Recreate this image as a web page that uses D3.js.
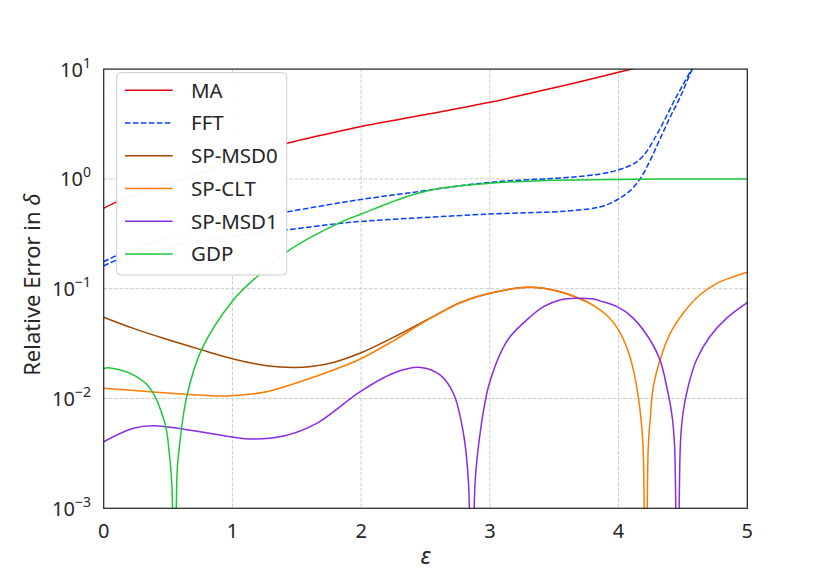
<!DOCTYPE html>
<html>
<head>
<meta charset="utf-8">
<script src="https://cdn.jsdelivr.net/npm/d3@7"></script>
<style>
  body { margin: 0; background: #fff; }
  text { font-family: "Noto Sans", sans-serif; fill: #262626; }
</style>
</head>
<body>
<svg id="chart" width="830" height="581"></svg>
<script>
// values, x = epsilon, y = relative error
const maEps = [0, 0.1, 0.25, 0.5, 0.75, 1.0, 1.25, 1.425, 1.84, 2.0, 2.3, 2.5, 3.0, 3.5, 4.0, 4.2];
const maVal = [0.54, 0.617, 0.724, 0.912, 1.15, 1.46, 1.80, 2.11, 2.73, 3.0, 3.49, 3.86, 4.99, 6.76, 9.35, 10.7];

const fftAEps = [0, 0.1, 0.5, 1.0, 1.42, 1.84, 2.0, 2.35, 3.0, 3.6, 3.86, 4.0, 4.115, 4.193, 4.27, 4.348, 4.426, 4.503, 4.6];
const fftAVal = [0.176, 0.20, 0.29, 0.41, 0.50, 0.607, 0.65, 0.74, 0.93, 1.03, 1.11, 1.21, 1.37, 1.63, 2.23, 3.28, 4.99, 7.3, 11.7];

const fftBEps = [0, 0.1, 0.5, 1.0, 1.42, 1.84, 2.0, 3.0, 3.6, 3.86, 4.0, 4.089, 4.167, 4.245, 4.322, 4.4, 4.478, 4.555, 4.62];
const fftBVal = [0.161, 0.182, 0.24, 0.30, 0.343, 0.394, 0.41, 0.479, 0.51, 0.558, 0.656, 0.78, 1.0, 1.47, 2.31, 3.64, 5.53, 9.0, 13];

const msd0Eps = [0, 0.23, 0.49, 0.748, 1.007, 1.266, 1.473, 1.63, 1.784, 1.99, 2.25, 2.458, 2.6, 2.768, 3.0, 3.3, 3.545, 3.753];
const msd0Val = [0.055, 0.0435, 0.0346, 0.028, 0.0229, 0.0199, 0.0192, 0.0197, 0.0213, 0.0258, 0.036, 0.0484, 0.059, 0.0745, 0.0908, 0.103, 0.094, 0.076];

const cltEps = [0, 0.36, 0.748, 0.956, 1.266, 1.525, 1.784, 1.99, 2.25, 2.51, 2.768, 3.0, 3.3, 3.545, 3.753, 3.856, 3.93, 4.0, 4.06, 4.115, 4.167, 4.19, 4.211, 4.23, 4.245, 4.27, 4.322, 4.4, 4.503, 4.633, 4.763, 4.892, 5.0];
const cltVal = [0.0124, 0.01153, 0.01076, 0.01054, 0.01153, 0.0142, 0.0182, 0.0228, 0.0335, 0.0515, 0.0745, 0.0908, 0.103, 0.094, 0.076, 0.064, 0.054, 0.042, 0.030, 0.0182, 0.0078, 0.0037, 0.00001, 0.0035, 0.0063, 0.0128, 0.0224, 0.039, 0.060, 0.088, 0.112, 0.1285, 0.141];

const msd1Eps = [0, 0.23, 0.385, 0.748, 1.137, 1.396, 1.655, 1.99, 2.25, 2.46, 2.613, 2.717, 2.795, 2.834, 2.859, 2.885, 2.924, 2.976, 3.0, 3.08, 3.157, 3.287, 3.417, 3.545, 3.675, 3.805, 3.856, 4.0, 4.115, 4.245, 4.322, 4.374, 4.413, 4.435, 4.457, 4.48, 4.5, 4.54, 4.605, 4.708, 4.838, 5.0];
const msd1Val = [0.00404, 0.00536, 0.00565, 0.00499, 0.00428, 0.00455, 0.00594, 0.0115, 0.017, 0.0192, 0.0164, 0.0111, 0.0048, 0.0017, 0.00001, 0.0017, 0.0048, 0.0111, 0.0142, 0.0255, 0.0365, 0.052, 0.0686, 0.0789, 0.0818, 0.0805, 0.0775, 0.0675, 0.0537, 0.0341, 0.0224, 0.0128, 0.0073, 0.0037, 0.00001, 0.0038, 0.0073, 0.0128, 0.0224, 0.0365, 0.0537, 0.0747];

const gdpEps = [0, 0.05, 0.23, 0.36, 0.476, 0.507, 0.53, 0.548, 0.57, 0.585, 0.645, 0.761, 1.007, 1.19, 1.42, 1.6, 1.836, 2.0, 2.354, 2.613, 3.0, 3.39, 4.0, 4.5, 5.0];
const gdpVal = [0.0188, 0.019, 0.0164, 0.0124, 0.0059, 0.0034, 0.0016, 0.00001, 0.0021, 0.0034, 0.0104, 0.028, 0.079, 0.1285, 0.215, 0.29, 0.40, 0.479, 0.689, 0.82, 0.912, 0.963, 0.99, 0.998, 1.0];

const seriesNames = ["MA", "FFT", "SP-MSD0", "SP-CLT", "SP-MSD1", "GDP"];
const xTicks = [0, 1, 2, 3, 4, 5];
const yTicks = [1e-3, 1e-2, 1e-1, 1, 10];
const yTickExp = ["\u22123", "\u22122", "\u22121", "0", "1"];

const colors = {
  "MA": "#e8000b", "FFT": "#023eff", "SP-MSD0": "#9f4800",
  "SP-CLT": "#ff7c00", "SP-MSD1": "#8b2be2", "GDP": "#1ac938"
};

// one entry per drawn line; FFT has two branches
const lines = [
  { name: "MA", eps: maEps, val: maVal },
  { name: "FFT", eps: fftAEps, val: fftAVal },
  { name: "FFT", eps: fftBEps, val: fftBVal },
  { name: "SP-MSD0", eps: msd0Eps, val: msd0Val },
  { name: "SP-CLT", eps: cltEps, val: cltVal },
  { name: "SP-MSD1", eps: msd1Eps, val: msd1Val },
  { name: "GDP", eps: gdpEps, val: gdpVal }
];

const svg = d3.select("#chart");
const box = { left: 103.7, right: 747.3, top: 69.1, bottom: 508.3 };

const x = d3.scaleLinear().domain([0, 5]).range([box.left, box.right]);
const y = d3.scaleLog().domain([1e-3, 10]).range([box.bottom, box.top]);

svg.append("rect").attr("width", 830).attr("height", 581).attr("fill", "#fff");

svg.append("clipPath").attr("id", "plot-clip")
  .append("rect")
  .attr("x", box.left).attr("y", box.top)
  .attr("width", box.right - box.left).attr("height", box.bottom - box.top);

// grid
const grid = svg.append("g")
  .attr("stroke", "#cccccc").attr("stroke-width", 1)
  .attr("stroke-dasharray", "3.7,1.6");
grid.selectAll(".gx").data(xTicks.slice(1, -1)).join("line")
  .attr("class", "gx")
  .attr("x1", d => x(d)).attr("x2", d => x(d))
  .attr("y1", box.top).attr("y2", box.bottom);
grid.selectAll(".gy").data(yTicks.slice(1, -1)).join("line")
  .attr("class", "gy")
  .attr("x1", box.left).attr("x2", box.right)
  .attr("y1", d => y(d)).attr("y2", d => y(d));

// curves
const line = d3.line()
  .x(d => x(d[0]))
  .y(d => y(d[1]))
  .curve(d3.curveCatmullRom.alpha(0.5));

svg.append("g").attr("clip-path", "url(#plot-clip)")
  .selectAll("path").data(lines).join("path")
  .attr("d", d => line(d.eps.map((e, i) => [e, d.val[i]])))
  .attr("fill", "none")
  .attr("stroke", d => colors[d.name])
  .attr("stroke-width", 1.5)
  .attr("stroke-dasharray", d => d.name === "FFT" ? "5.55,2.4" : null);

// frame
svg.append("rect")
  .attr("x", box.left).attr("y", box.top)
  .attr("width", box.right - box.left).attr("height", box.bottom - box.top)
  .attr("fill", "none").attr("stroke", "#262626").attr("stroke-width", 1.25);

// x tick labels
svg.append("g").selectAll("text").data(xTicks).join("text")
  .attr("x", d => x(d)).attr("y", box.bottom + 29.5)
  .attr("text-anchor", "middle").attr("font-size", 20)
  .text(d => d);

// y tick labels 10^n
const yl = svg.append("g").selectAll("text").data(yTicks).join("text")
  .attr("x", 91).attr("y", d => y(d) + 7.5)
  .attr("text-anchor", "end").attr("font-size", 20);
yl.append("tspan").text("10");
yl.append("tspan").attr("dy", -9).attr("font-size", 14)
  .text((d, i) => yTickExp[i]);

// axis labels
svg.append("text")
  .attr("x", (box.left + box.right) / 2).attr("y", 564)
  .attr("text-anchor", "middle").attr("font-size", 24)
  .attr("font-style", "italic").text("\u03b5");

svg.append("text")
  .attr("transform", `translate(40,${(box.top + box.bottom) / 2 - 4}) rotate(-90)`)
  .attr("text-anchor", "middle").attr("font-size", 22)
  .html('Relative Error in <tspan font-style="italic">\u03b4</tspan>');

// legend
const lg = svg.append("g");
lg.append("rect")
  .attr("x", 116.7).attr("y", 72.7).attr("width", 170).attr("height", 202.3)
  .attr("rx", 4).attr("fill", "#fff").attr("fill-opacity", 0.96)
  .attr("stroke", "#cccccc").attr("stroke-width", 1);
const row = lg.selectAll(".row").data(seriesNames).join("g")
  .attr("class", "row")
  .attr("transform", (d, i) => `translate(0,${90.3 + i * 32.75})`);
row.append("line")
  .attr("x1", 125).attr("x2", 172.7)
  .attr("stroke", d => colors[d]).attr("stroke-width", 1.5)
  .attr("stroke-dasharray", d => d === "FFT" ? "5.55,2.4" : null);
row.append("text")
  .attr("x", 191).attr("y", 7.3).attr("font-size", 20.5)
  .text(d => d);
</script>
</body>
</html>
